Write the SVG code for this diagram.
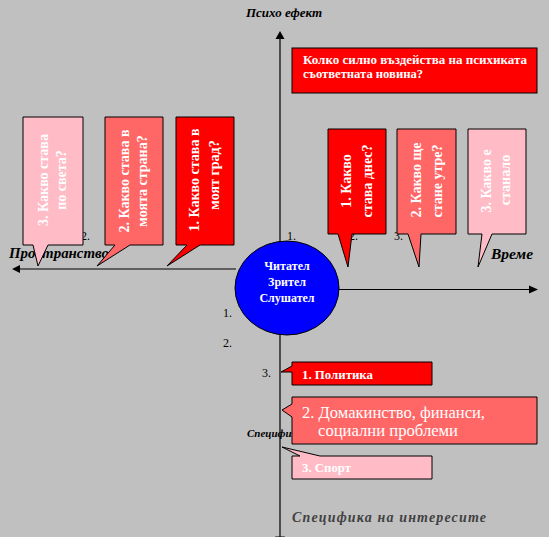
<svg xmlns="http://www.w3.org/2000/svg" width="549" height="537" viewBox="0 0 549 537">
<style>
.ax{stroke:#000;stroke-width:1.2;fill:none}
.ah{fill:#000}
.box{stroke:#000;stroke-width:1}
.red{fill:#FF0000}
.sal{fill:#FF6666}
.pink{fill:#FFBBC6}
.vt{font-family:"Liberation Serif",serif;font-weight:bold;font-size:14px;fill:#fff;text-anchor:middle}
.bt{font-family:"Liberation Serif",serif;font-weight:bold;font-size:12px;fill:#fff}
.num{font-family:"Liberation Serif",serif;font-size:12px;fill:#000}
.lab{font-family:"Liberation Serif",serif;font-weight:bold;font-style:italic;fill:#000}
</style>
<rect width="549" height="537" fill="#C0C0C0"/>
<g id="connectors">
<line class="ax" x1="280" y1="38" x2="280" y2="537"/>
<polygon class="ah" points="280,31 275.5,39 284.5,39"/>
<polygon class="ah" points="275,536.5 285,536.5 280,545"/>
<line class="ax" x1="19" y1="269" x2="236" y2="269"/>
<polygon class="ah" points="12,269 20,265 20,273"/>
<line class="ax" x1="338" y1="289.5" x2="531" y2="289.5"/>
<polygon class="ah" points="538,289.5 529,285.5 529,293.5"/>
</g>
<g id="labels">
<text class="lab" x="246" y="17" font-size="12" textLength="76" lengthAdjust="spacingAndGlyphs">Психо ефект</text>
<text class="lab" x="491" y="259" font-size="14" textLength="42" lengthAdjust="spacingAndGlyphs">Време</text>
<text class="lab" x="9" y="258" font-size="14" textLength="100" lengthAdjust="spacingAndGlyphs">Пространство</text>
<text class="lab" x="247" y="437" font-size="11">Специфика</text>
<text class="num" x="287" y="240">1.</text>
<text class="num" x="349" y="240">2.</text>
<text class="num" x="394" y="240">3.</text>
<text class="num" x="81" y="240">2.</text>
<text class="num" x="223" y="317">1.</text>
<text class="num" x="223" y="347">2.</text>
<text class="num" x="262" y="377">3.</text>
<text x="292" y="522" font-family="Liberation Serif, serif" font-weight="bold" font-style="italic" font-size="14" fill="#404040" textLength="194" lengthAdjust="spacing">Специфика на интересите</text>
</g>
<g id="question">
<rect class="box red" x="292" y="48" width="245" height="45"/>
<text class="bt" x="303" y="64" font-size="13" textLength="224" lengthAdjust="spacingAndGlyphs">Колко силно въздейства на психиката</text>
<text class="bt" x="303" y="78" font-size="13" textLength="120" lengthAdjust="spacingAndGlyphs">съответната новина?</text>
</g>
<g id="space3">
<path class="box pink" d="M23,117 H83 V245 H48 L38,266 L33,245 H23 Z"/>
<text class="vt" transform="translate(48,180) rotate(-90)">3. Какво става</text>
<text class="vt" transform="translate(66,180) rotate(-90)">по света?</text>
</g>
<g id="space2">
<path class="box sal" d="M105,117 H163 V245 H130 L97,266 L115,245 H105 Z"/>
<text class="vt" transform="translate(128.5,181) rotate(-90)">2. Какво става в</text>
<text class="vt" transform="translate(146.5,181) rotate(-90)">моята страна?</text>
</g>
<g id="space1">
<path class="box red" d="M176,117 H234 V245 H200 L167,266 L187,245 H176 Z"/>
<text class="vt" transform="translate(198.5,180) rotate(-90)">1. Какво става в</text>
<text class="vt" transform="translate(218.5,175) rotate(-90)">моят град?</text>
</g>
<g id="time1">
<path class="box red" d="M328,129 H386 V234 H352 L348,267 L338,234 H328 Z"/>
<text class="vt" transform="translate(350.5,181) rotate(-90)">1. Какво</text>
<text class="vt" transform="translate(371.5,181) rotate(-90)">става днес?</text>
</g>
<g id="time2">
<path class="box sal" d="M397,129 H456 V234 H421 L419,267 L408,234 H397 Z"/>
<text class="vt" transform="translate(420.5,180) rotate(-90)">2. Какво ще</text>
<text class="vt" transform="translate(441.5,181) rotate(-90)">стане утре?</text>
</g>
<g id="time3">
<path class="box pink" d="M468,129 H526 V234 H492 L478,267 L482,234 H468 Z"/>
<text class="vt" transform="translate(490.5,181) rotate(-90)">3. Какво е</text>
<text class="vt" transform="translate(509.5,180) rotate(-90)">станало</text>
</g>
<g id="reader">
<ellipse cx="287" cy="288" rx="52" ry="47" fill="#0000FF" stroke="#000" stroke-width="1"/>
<text class="bt" x="287" y="270" font-size="13" text-anchor="middle">Читател</text>
<text class="bt" x="287" y="286" font-size="13" text-anchor="middle">Зрител</text>
<text class="bt" x="287" y="302" font-size="13" text-anchor="middle">Слушател</text>
</g>
<g id="interest1">
<path class="box red" d="M292,362 H432 V385 H292 V372 L281,372 L292,366 Z"/>
<text class="bt" x="302" y="379" textLength="71" lengthAdjust="spacingAndGlyphs">1. Политика</text>
</g>
<g id="interest2">
<path class="box sal" d="M292,397 H537 V444 H292 V417 L282,410 L292,404 Z"/>
<text x="302" y="418" font-family="Liberation Serif, serif" font-size="16" fill="#fff" textLength="183" lengthAdjust="spacingAndGlyphs">2. Домакинство, финанси,</text>
<text x="318" y="436" font-family="Liberation Serif, serif" font-size="16" fill="#fff" textLength="140" lengthAdjust="spacingAndGlyphs">социални проблеми</text>
</g>
<g id="interest3">
<path class="box pink" d="M292,456 H300 L282,447 L320,456 H432 V479 H292 Z"/>
<text class="bt" x="302" y="472" textLength="49" lengthAdjust="spacingAndGlyphs">3. Спорт</text>
</g>
</svg>
